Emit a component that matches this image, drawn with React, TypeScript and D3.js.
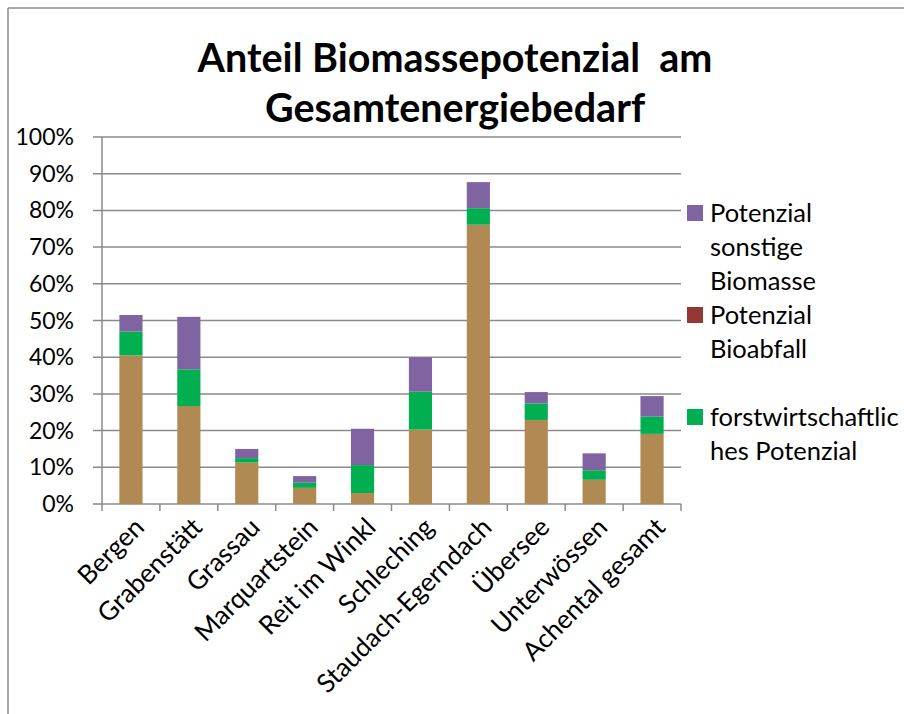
import React from "react";
import * as d3 from "d3";

const categories = ["Bergen", "Grabenstätt", "Grassau", "Marquartstein", "Reit im Winkl", "Schleching", "Staudach-Egerndach", "Übersee", "Unterwössen", "Achental gesamt"];
const landwirtschaftlich = [40.5, 26.7, 11.3, 4.4, 3.0, 20.3, 76.1, 22.9, 6.6, 19.1];
const forstwirtschaftlich = [6.5, 10.0, 1.2, 1.4, 7.6, 10.3, 4.5, 4.5, 2.6, 4.7];
const bioabfall = [0, 0, 0, 0, 0, 0, 0, 0, 0, 0];
const sonstige = [4.5, 14.3, 2.5, 1.8, 9.9, 9.4, 7.1, 3.1, 4.6, 5.6];
const yTicks = [0, 10, 20, 30, 40, 50, 60, 70, 80, 90, 100];

const seriesKeys = ["landwirtschaftlich", "forstwirtschaftlich", "bioabfall", "sonstige"];
const seriesColors: Record<string, string> = {
  landwirtschaftlich: "#B08A52",
  forstwirtschaftlich: "#00B050",
  bioabfall: "#953735",
  sonstige: "#8064A2",
};

const legendItems = [
  { key: "sonstige", lines: ["Potenzial", "sonstige", "Biomasse"] },
  { key: "bioabfall", lines: ["Potenzial", "Bioabfall", ""] },
  { key: "forstwirtschaftlich", lines: ["forstwirtschaftlic", "hes Potenzial"] },
];

const W = 904, H = 714;
const M = { left: 102, right: 681, top: 137, bottom: 504 };
const FONT = "Lato, 'Open Sans', sans-serif";

export default function App() {
  const rows = categories.map((c, i) => ({
    cat: c,
    landwirtschaftlich: landwirtschaftlich[i],
    forstwirtschaftlich: forstwirtschaftlich[i],
    bioabfall: bioabfall[i],
    sonstige: sonstige[i],
  }));
  const stack = d3.stack<any>().keys(seriesKeys)(rows);
  const x = d3.scaleBand().domain(categories).range([M.left, M.right]).paddingInner(0).paddingOuter(0);
  const y = d3.scaleLinear().domain([0, 100]).range([M.bottom, M.top]);
  const bw = x.bandwidth() * 0.4;
  const grid = "#8a8a8a";

  let ly = 205;
  const legendRows: JSX.Element[] = [];
  legendItems.forEach((it, k) => {
    legendRows.push(
      <rect key={"s" + k} x={687} y={ly} width={16} height={16} fill={seriesColors[it.key]} />
    );
    it.lines.forEach((ln, j) => {
      if (ln)
        legendRows.push(
          <text key={"t" + k + j} x={710} y={ly + 17 + j * 34} fontSize={25.5} fontFamily={FONT} fill="#000">{ln}</text>
        );
    });
    ly += it.lines.length * 34;
  });

  return (
    <svg width={W} height={H} style={{ position: "absolute", left: 0, top: 0, background: "#fff" }}>
      <rect x={0} y={0} width={W} height={H} fill="#fff" />
      <line x1={8} y1={8} x2={W} y2={8} stroke={grid} strokeWidth={1.5} />
      <line x1={8} y1={8} x2={8} y2={H} stroke={grid} strokeWidth={1.5} />
      <text x={455} y={72} textAnchor="middle" fontSize={39.5} fontWeight="bold" fontFamily={FONT} style={{ whiteSpace: "pre" }}>{"Anteil Biomassepotenzial  am"}</text>
      <text x={455} y={122} textAnchor="middle" fontSize={39.5} fontWeight="bold" fontFamily={FONT}>Gesamtenergiebedarf</text>
      {yTicks.map((t) => (
        <g key={t}>
          <line x1={M.left - 9} x2={M.right} y1={y(t)} y2={y(t)} stroke={grid} strokeWidth={1.5} />
          <text x={74} y={y(t) + 8} textAnchor="end" fontSize={23} fontFamily={FONT}>{t}%</text>
        </g>
      ))}
      <line x1={M.left} x2={M.left} y1={M.top} y2={M.bottom} stroke={grid} strokeWidth={1.5} />
      {categories.map((c, i) => (
        <line key={c} x1={x(c)!} x2={x(c)!} y1={M.bottom} y2={M.bottom + 7} stroke={grid} strokeWidth={1.5} />
      ))}
      <line x1={M.right} x2={M.right} y1={M.bottom} y2={M.bottom + 7} stroke={grid} strokeWidth={1.5} />
      {stack.map((s) => (
        <g key={s.key} fill={seriesColors[s.key]}>
          {s.map((d, i) =>
            d[1] - d[0] > 0 ? (
              <rect key={i} x={x(categories[i])! + (x.bandwidth() - bw) / 2} y={y(d[1])} width={bw} height={y(d[0]) - y(d[1])} />
            ) : null
          )}
        </g>
      ))}
      {categories.map((c) => {
        const cx = x(c)! + x.bandwidth() / 2 + 2;
        return (
          <text key={c} transform={`translate(${cx},${516}) rotate(-45)`} textAnchor="end" fontSize={26} fontFamily={FONT} dy="0.7em">{c}</text>
        );
      })}
      {legendRows}
    </svg>
  );
}
